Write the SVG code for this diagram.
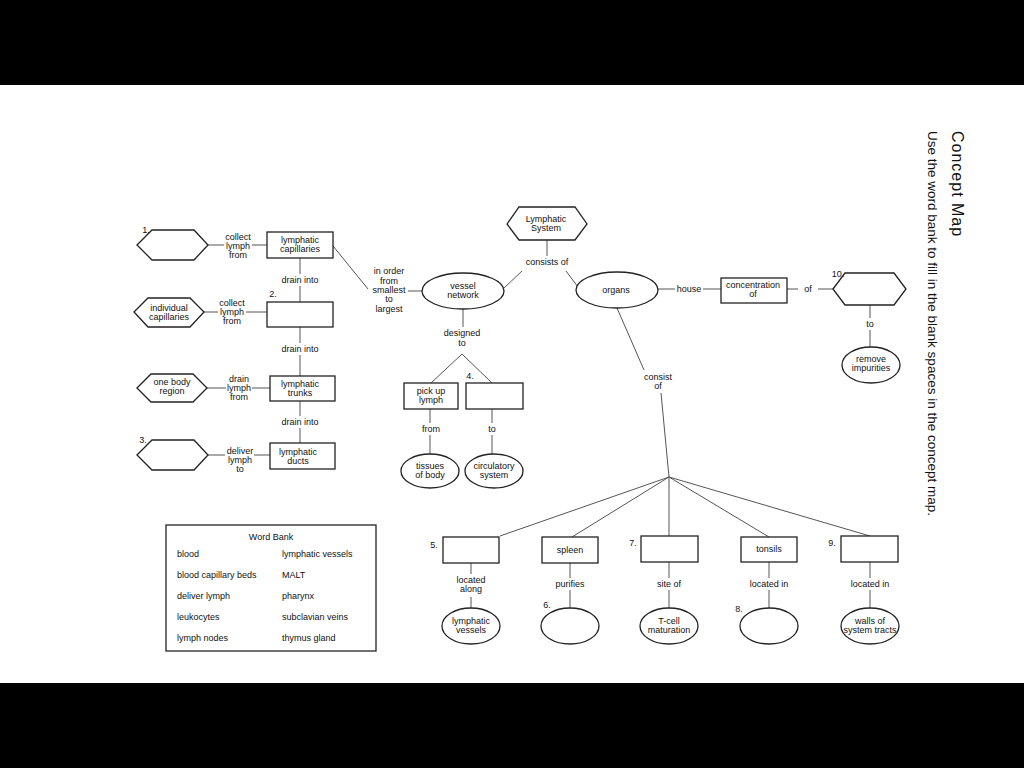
<svg xmlns="http://www.w3.org/2000/svg" width="1024" height="768" viewBox="0 0 1024 768">
<style>
text{font-family:"Liberation Sans",Arial,sans-serif;font-size:9px;fill:#111;text-anchor:middle}
.n{stroke:#222;stroke-width:1.3;fill:#fff}
.c line,.c polyline{stroke:#555;stroke-width:1;fill:none}
.l{text-anchor:start}
</style>
<rect width="1024" height="768" fill="#fff"/>
<rect width="1024" height="85" fill="#000"/>
<rect y="683" width="1024" height="85" fill="#000"/>
<g class="c">
<line x1="208" y1="245" x2="224" y2="245"/><line x1="252" y1="245" x2="267" y2="245"/>
<line x1="204" y1="312" x2="218" y2="312"/><line x1="246" y1="312" x2="267" y2="312"/>
<line x1="207" y1="388" x2="226" y2="388"/><line x1="252" y1="388" x2="270" y2="388"/>
<line x1="208" y1="455" x2="225" y2="455"/><line x1="254" y1="455" x2="270" y2="455"/>
<line x1="300" y1="258" x2="300" y2="274"/><line x1="300" y1="286" x2="300" y2="302"/>
<line x1="300" y1="327" x2="300" y2="343"/><line x1="300" y1="355" x2="300" y2="376"/>
<line x1="300" y1="401" x2="300" y2="416"/><line x1="300" y1="428" x2="300" y2="443"/>
<line x1="333" y1="246" x2="368" y2="289"/><line x1="408" y1="291" x2="422" y2="291"/>
<line x1="547" y1="240" x2="547" y2="256"/><line x1="522" y1="271" x2="503" y2="289"/><line x1="566" y1="271" x2="578" y2="287"/>
<line x1="658" y1="289" x2="675" y2="289"/><line x1="703" y1="289" x2="721" y2="289"/>
<line x1="787" y1="289" x2="798" y2="289"/><line x1="818" y1="289" x2="833" y2="289"/>
<line x1="870" y1="305" x2="870" y2="318"/><line x1="870" y1="330" x2="870" y2="347"/>
<line x1="463" y1="309" x2="463" y2="327"/>
<polyline points="431,383 462,354 492,383"/>
<line x1="430" y1="409" x2="430" y2="423"/><line x1="430" y1="435" x2="430" y2="454"/>
<line x1="492" y1="409" x2="492" y2="423"/><line x1="492" y1="435" x2="492" y2="454"/>
<line x1="617" y1="308" x2="644" y2="370"/><line x1="661" y1="393" x2="669" y2="477"/>
<line x1="669" y1="477" x2="500" y2="536"/><line x1="669" y1="477" x2="572" y2="537"/>
<line x1="669" y1="477" x2="669" y2="536"/><line x1="669" y1="477" x2="769" y2="537"/>
<line x1="669" y1="477" x2="870" y2="536"/>
<line x1="471" y1="563" x2="471" y2="574"/><line x1="471" y1="597" x2="471" y2="608"/>
<line x1="570" y1="563" x2="570" y2="578"/><line x1="570" y1="590" x2="570" y2="608"/>
<line x1="669" y1="562" x2="669" y2="578"/><line x1="669" y1="590" x2="669" y2="608"/>
<line x1="769" y1="562" x2="769" y2="578"/><line x1="769" y1="590" x2="769" y2="608"/>
<line x1="870" y1="562" x2="870" y2="578"/><line x1="870" y1="590" x2="870" y2="608"/>
</g>
<g class="t">
<text x="238" y="240">collect</text><text x="238" y="249">lymph</text><text x="238" y="258">from</text>
<text x="232" y="306">collect</text><text x="232" y="315">lymph</text><text x="232" y="324">from</text>
<text x="239" y="382">drain</text><text x="239" y="391">lymph</text><text x="239" y="400">from</text>
<text x="240" y="454">deliver</text><text x="240" y="463">lymph</text><text x="240" y="472">to</text>
<text x="300" y="283">drain into</text><text x="300" y="352">drain into</text><text x="300" y="425">drain into</text>
<text x="389" y="274">in order</text><text x="389" y="284">from</text><text x="389" y="293">smallest</text><text x="389" y="302">to</text><text x="389" y="312">largest</text>
<text x="547" y="265">consists of</text>
<text x="689" y="292">house</text><text x="808" y="292">of</text><text x="870" y="327">to</text>
<text x="462" y="336">designed</text><text x="462" y="346">to</text>
<text x="431" y="432">from</text><text x="492" y="432">to</text>
<text x="658" y="380">consist</text><text x="658" y="389">of</text>
<text x="471" y="583">located</text><text x="471" y="592">along</text>
<text x="570" y="587">purifies</text><text x="669" y="587">site of</text>
<text x="769" y="587">located in</text><text x="870" y="587">located in</text>
</g>
<g id="n1"><polygon class="n" points="137,245 152,230 194,230 208,245 194,260 152,260"/><text x="146" y="233">1.</text></g>
<g id="n2"><polygon class="n" points="134,312 148,298 190,298 204,312 190,327 148,327"/><text x="169" y="311">individual</text><text x="169" y="320">capillaries</text></g>
<g id="n3"><polygon class="n" points="137,388 151,374 193,374 207,388 193,402 151,402"/><text x="172" y="385">one body</text><text x="172" y="394">region</text></g>
<g id="n4"><polygon class="n" points="137,455 152,440 194,440 208,455 194,470 152,470"/><text x="143" y="443">3.</text></g>
<g id="b1"><rect class="n" x="267" y="232" width="66" height="26"/><text x="300" y="243">lymphatic</text><text x="300" y="252">capillaries</text></g>
<g id="b2"><rect class="n" x="267" y="302" width="66" height="25"/><text x="273" y="297">2.</text></g>
<g id="b3"><rect class="n" x="270" y="376" width="65" height="25"/><text x="300" y="387">lymphatic</text><text x="300" y="396">trunks</text></g>
<g id="b4"><rect class="n" x="270" y="443" width="65" height="26"/><text x="298" y="455">lymphatic</text><text x="298" y="464">ducts</text></g>
<g id="ls"><polygon class="n" points="507,224 519,207 575,207 587,224 575,240 519,240"/><text x="546" y="222">Lymphatic</text><text x="546" y="231">System</text></g>
<g id="vn"><ellipse class="n" cx="463" cy="291" rx="41" ry="18"/><text x="463" y="289">vessel</text><text x="463" y="298">network</text></g>
<g id="org"><ellipse class="n" cx="617" cy="290" rx="41" ry="18"/><text x="616" y="293">organs</text></g>
<g id="conc"><rect class="n" x="721" y="278" width="66" height="25"/><text x="753" y="288">concentration</text><text x="753" y="297">of</text></g>
<g id="h10"><polygon class="n" points="833,289 845,273 894,273 906,289 894,305 845,305"/><text x="838" y="277">10.</text></g>
<g id="ri"><ellipse class="n" cx="871" cy="365" rx="29" ry="18"/><text x="871" y="362">remove</text><text x="871" y="371">impurities</text></g>
<g id="pul"><rect class="n" x="404" y="383" width="54" height="26"/><text x="431" y="394">pick up</text><text x="431" y="403">lymph</text></g>
<g id="b4b"><rect class="n" x="466" y="383" width="57" height="26"/><text x="470" y="379">4.</text></g>
<g id="tob"><ellipse class="n" cx="430" cy="471" rx="29" ry="17"/><text x="430" y="469">tissues</text><text x="430" y="478">of body</text></g>
<g id="cs"><ellipse class="n" cx="494" cy="471" rx="29" ry="17"/><text x="494" y="469">circulatory</text><text x="494" y="478">system</text></g>
<g id="b5"><rect class="n" x="443" y="537" width="56" height="26"/><text x="434" y="548">5.</text></g>
<g id="sp"><rect class="n" x="542" y="537" width="56" height="26"/><text x="570" y="553">spleen</text></g>
<g id="b7"><rect class="n" x="641" y="536" width="57" height="26"/><text x="633" y="546">7.</text></g>
<g id="ton"><rect class="n" x="741" y="537" width="56" height="25"/><text x="769" y="552">tonsils</text></g>
<g id="b9"><rect class="n" x="841" y="536" width="57" height="26"/><text x="832" y="546">9.</text></g>
<g id="e5"><ellipse class="n" cx="471" cy="626" rx="29" ry="18"/><text x="471" y="624">lymphatic</text><text x="471" y="633">vessels</text></g>
<g id="e6"><ellipse class="n" cx="570" cy="626" rx="29" ry="18"/><text x="547" y="608">6.</text></g>
<g id="e7"><ellipse class="n" cx="669" cy="626" rx="29" ry="18"/><text x="669" y="624">T-cell</text><text x="669" y="633">maturation</text></g>
<g id="e8"><ellipse class="n" cx="769" cy="626" rx="29" ry="18"/><text x="739" y="612">8.</text></g>
<g id="e9"><ellipse class="n" cx="870" cy="626" rx="29" ry="18"/><text x="870" y="624">walls of</text><text x="870" y="633">system tracts</text></g>
<g id="wb"><rect class="n" x="166" y="525" width="210" height="126"/>
<text x="271" y="540">Word Bank</text>
<text class="l" x="177" y="557">blood</text><text class="l" x="282" y="557">lymphatic vessels</text>
<text class="l" x="177" y="578">blood capillary beds</text><text class="l" x="282" y="578">MALT</text>
<text class="l" x="177" y="599">deliver lymph</text><text class="l" x="282" y="599">pharynx</text>
<text class="l" x="177" y="620">leukocytes</text><text class="l" x="282" y="620">subclavian veins</text>
<text class="l" x="177" y="641">lymph nodes</text><text class="l" x="282" y="641">thymus gland</text>
</g>
<text class="l" transform="translate(952,131) rotate(90)" style="font-size:16px;letter-spacing:1px">Concept Map</text>
<text class="l" transform="translate(928,131) rotate(90)" style="font-size:13.5px">Use the word bank to fill in the blank spaces in the concept map.</text>
</svg>
